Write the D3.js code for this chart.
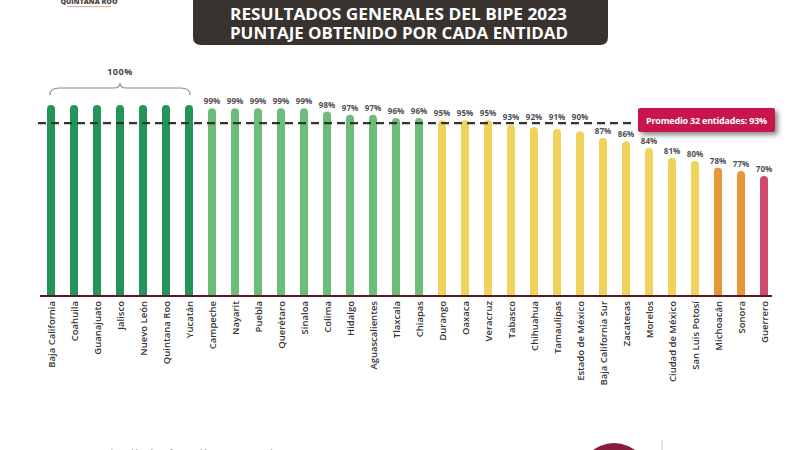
<!DOCTYPE html>
<html>
<head>
<meta charset="utf-8">
<script src="https://cdn.jsdelivr.net/npm/d3@7"></script>
<style>
  html, body { margin: 0; padding: 0; background: #fff; }
  svg { display: block; font-family: "Open Sans", "DejaVu Sans", sans-serif; }
</style>
</head>
<body>
<div id="chart"></div>
<script>
// datos del BIPE 2023
var entidades = ["Baja California", "Coahuila", "Guanajuato", "Jalisco", "Nuevo León", "Quintana Roo", "Yucatán",
    "Campeche", "Nayarit", "Puebla", "Querétaro", "Sinaloa", "Colima", "Hidalgo", "Aguascalientes", "Tlaxcala",
    "Chiapas", "Durango", "Oaxaca", "Veracruz", "Tabasco", "Chihuahua", "Tamaulipas", "Estado de México",
    "Baja California Sur", "Zacatecas", "Morelos", "Ciudad de México", "San Luis Potosí", "Michoacán", "Sonora", "Guerrero"];
var puntajes = [100, 100, 100, 100, 100, 100, 100,
    99, 99, 99, 99, 99, 98, 97, 97, 96,
    96, 95, 95, 95, 93, 92, 91, 90,
    87, 86, 84, 81, 80, 78, 77, 70];
var promedio = 93;
var titulos = ["RESULTADOS GENERALES DEL BIPE 2023", "PUNTAJE OBTENIDO POR CADA ENTIDAD"];

var width = 800,
    height = 450,
    baseY = 296,
    barWidth = 8;

function colorFor(v) {
    if (v >= 100) return "#23945a";
    if (v >= 96) return "#6cbd78";
    if (v >= 80) return "#f0d35b";
    if (v >= 77) return "#e9953a";
    return "#d14a6c";
}

var svg = d3.select("#chart")
    .append("svg")
    .attr("width", width)
    .attr("height", height);

var defs = svg.append("defs");
var shadow = defs.append("filter")
    .attr("id", "shadow")
    .attr("x", "-20%").attr("y", "-40%")
    .attr("width", "150%").attr("height", "200%");
shadow.append("feDropShadow")
    .attr("dx", 3).attr("dy", 3)
    .attr("stdDeviation", 2.5)
    .attr("flood-color", "#000")
    .attr("flood-opacity", 0.45);

var x = d3.scalePoint()
    .domain(entidades)
    .range([51, 764]);

// la infografía no es proporcional: escala lineal por tramos
var y = d3.scaleLinear()
    .domain([70, 77, 87, 96, 100])
    .range([176, 171, 138, 118, 105]);

var avgY = y(promedio) - 1.5;

// logo (recortado arriba)
svg.append("text")
    .attr("x", 89).attr("y", 4)
    .attr("text-anchor", "middle")
    .style("font-size", "7px")
    .style("font-weight", "800")
    .style("fill", "#4a4440")
    .text("QUINTANA ROO");
svg.append("rect")
    .attr("x", 67).attr("y", 6)
    .attr("width", 44).attr("height", 1.2)
    .style("fill", "#e4b49a");

// caja del título
svg.append("path")
    .attr("d", "M193,0 H608 V37 Q608,45 600,45 H201 Q193,45 193,37 Z")
    .style("fill", "#38332e");

titulos.forEach(function (t, i) {
    svg.append("text")
        .attr("x", 230)
        .attr("y", 19.5 + i * 19)
        .attr("textLength", i == 0 ? 337 : 338)
        .attr("lengthAdjust", "spacingAndGlyphs")
        .style("font-size", "15.5px")
        .style("font-weight", "700")
        .style("fill", "#ffffff")
        .text(t);
});

// llave del 100%
var x0 = x(entidades[0]), x6 = x(entidades[6]), xm = (x0 + x6) / 2;
svg.append("path")
    .attr("d", "M" + (x0 - 1) + ",95 Q" + (x0 - 1) + ",88 " + (x0 + 8) + ",88 H" + (xm - 6) +
        " Q" + xm + ",88 " + xm + ",83 Q" + xm + ",88 " + (xm + 6) + ",88 H" + (x6 - 8) +
        " Q" + (x6 + 1) + ",88 " + (x6 + 1) + ",95")
    .style("fill", "none")
    .style("stroke", "#8a8a8a")
    .style("stroke-width", "1.1px");

svg.append("text")
    .attr("x", xm).attr("y", 75)
    .attr("text-anchor", "middle")
    .style("font-size", "9px")
    .style("font-weight", "700")
    .style("letter-spacing", "0.5px")
    .style("fill", "#444")
    .text("100%");

// barras con la parte superior redondeada
var r = barWidth / 2;
svg.append("g")
    .selectAll("path")
    .data(puntajes)
    .join("path")
    .attr("d", function (d, i) {
        var cx = x(entidades[i]), top = y(d);
        return "M" + (cx - r) + "," + baseY + " V" + (top + r) +
            " A" + r + "," + r + " 0 0 1 " + (cx + r) + "," + (top + r) +
            " V" + baseY + " Z";
    })
    .style("fill", function (d) { return colorFor(d); });

// etiquetas de porcentaje (las cercanas al promedio van arriba de la línea)
var conEtiqueta = entidades
    .map(function (e, i) { return { e: e, v: puntajes[i] }; })
    .filter(function (d) { return d.v < 100; });

svg.append("g")
    .selectAll("text")
    .data(conEtiqueta)
    .join("text")
    .attr("x", function (d) { return x(d.e); })
    .attr("y", function (d) {
        var ly = y(d.v) - 4;
        if (d.v >= 90 && d.v <= 95) ly = Math.min(ly, avgY - 3);
        return ly;
    })
    .attr("text-anchor", "middle")
    .style("font-size", "8px")
    .style("font-weight", "700")
    .style("fill", "#505050")
    .text(function (d) { return d.v + "%"; });

// línea del promedio
svg.append("line")
    .attr("x1", 38).attr("x2", 632)
    .attr("y1", avgY).attr("y2", avgY)
    .style("stroke", "#333")
    .style("stroke-width", "2.2px")
    .style("stroke-dasharray", "8,5");

svg.append("rect")
    .attr("x", 638).attr("y", 108)
    .attr("width", 137).attr("height", 24)
    .attr("rx", 2)
    .style("fill", "#c8164b")
    .attr("filter", "url(#shadow)");

svg.append("text")
    .attr("x", 706.5).attr("y", 123.5)
    .attr("text-anchor", "middle")
    .style("font-size", "9px")
    .style("font-weight", "700")
    .style("letter-spacing", "-0.2px")
    .style("fill", "#fff")
    .text("Promedio 32 entidades: " + promedio + "%");

// eje x
svg.append("line")
    .attr("x1", 40).attr("x2", 772)
    .attr("y1", baseY).attr("y2", baseY)
    .style("stroke", "#5a1a22")
    .style("stroke-width", "2px");

var axis = d3.axisBottom(x).tickSize(0).tickPadding(0);
var gAxis = svg.append("g")
    .attr("transform", "translate(0," + (baseY + 5) + ")")
    .call(axis);
gAxis.select(".domain").remove();
gAxis.selectAll(".tick text")
    .attr("transform", "rotate(-90)")
    .attr("x", 0)
    .attr("y", 0)
    .attr("dy", "0.35em")
    .attr("text-anchor", "end")
    .style("font-family", "'Open Sans', sans-serif")
    .style("font-size", "9.5px")
    .style("font-weight", "600")
    .style("fill", "#333");

// pie (recortado abajo)
svg.append("text")
    .attr("x", 45).attr("y", 456)
    .style("font-size", "9px")
    .style("font-weight", "600")
    .style("fill", "#999")
    .text("Fuente: BIPE, Dirección de Información Presupuestal 2023");

svg.append("circle")
    .attr("cx", 614).attr("cy", 478)
    .attr("r", 35)
    .style("fill", "#8a1d3b");

svg.append("line")
    .attr("x1", 662).attr("x2", 662)
    .attr("y1", 440).attr("y2", 450)
    .style("stroke", "#ccc")
    .style("stroke-width", "1px");
</script>
</body>
</html>
